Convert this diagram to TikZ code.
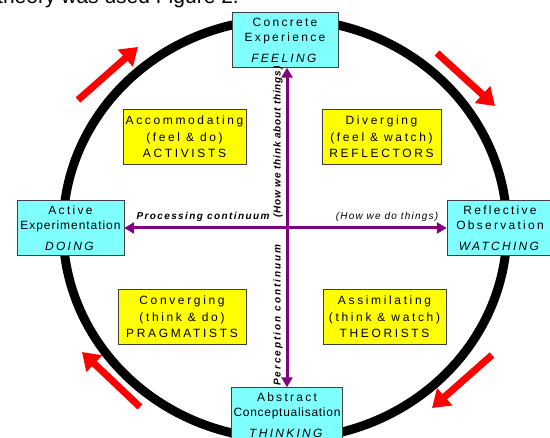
\documentclass[tikz,border=0pt]{standalone}
\usepackage{fontspec}
\setmainfont{Liberation Sans}
\usetikzlibrary{arrows.meta}
\definecolor{modecyan}{RGB}{128,255,255}
\definecolor{styleyellow}{RGB}{255,255,0}
\definecolor{axispurple}{RGB}{128,0,128}

\begin{document}
\begin{tikzpicture}[
		x=1pt, y=-1pt,
		ring/.style={line width=9pt, draw=black},
		mode/.style={rectangle, draw=black!75, fill=modecyan, minimum width=106pt, minimum height=55pt, inner sep=2pt, align=center, font=\fontsize{12}{15.5}\selectfont\addfontfeature{LetterSpace=19}},
		learner/.style={rectangle, draw=black!75, fill=styleyellow, minimum width=123pt, minimum height=55pt, inner sep=2pt, align=center, font=\fontsize{12}{16.5}\selectfont\addfontfeature{LetterSpace=22}},
		axis/.style={{Triangle[length=10pt,width=11pt]}-{Triangle[length=10pt,width=11pt]}, line width=3pt, draw=axispurple},
		turn/.style={-{Triangle[length=17pt,width=22pt]}, line width=7pt, draw=red},
		axislabel/.style={font=\fontsize{10}{12}\selectfont\itshape\addfontfeature{LetterSpace=10}, inner sep=1pt}
	]
	\useasboundingbox (0,0) rectangle (550,438);

	% heading line cut off above
	\node[anchor=base west, font=\fontsize{21}{21}\selectfont, inner sep=0pt] (heading) at (-3,4) {theory was used Figure 2.};

	% cycle
	\coordinate (mid) at (285,229);
	\draw[ring] (mid) ellipse [x radius=222, y radius=210];

	% four modes
	\node[mode] (feel) at (285,40) {Concrete\\Experience\\[5pt]\textit{FEELING}};
	\node[mode, minimum width=107pt] (doing) at (70.5,228) {Active\\{\addfontfeature{LetterSpace=8}Experimentation}\\[5pt]\textit{DOING}};
	\node[mode] (watch) at (500,228) {Reflective\\Observation\\[5pt]\textit{WATCHING}};
	\node[mode, minimum width=110pt] (think) at (287,415) {Abstract\\{\addfontfeature{LetterSpace=6}Conceptualisation}\\[5pt]\textit{THINKING}};

	% continua
	\draw[axis] (doing) -- (watch);
	\draw[axis] (think.north) -- (think.north |- feel.south);
	\node[axislabel] (process) at (203,217) {\bfseries\addfontfeature{LetterSpace=14}Processing continuum};
	\node[axislabel] (dothings) at (387,217) {\addfontfeature{LetterSpace=12}(How we do things)};
	\node[axislabel, rotate=90] (thinkthings) at (278,142) {\bfseries\addfontfeature{LetterSpace=8}(How we think about things)};
	\node[axislabel, rotate=90] (perceive) at (278,315) {\bfseries\addfontfeature{LetterSpace=20}Perception continuum};

	% learning styles
	\node[learner] (accom) at (184.5,137) {Accommodating\\(feel \& do)\\ACTIVISTS};
	\node[learner, minimum width=119pt] (diverg) at (381.5,137) {Diverging\\(feel \& watch)\\REFLECTORS};
	\node[learner, minimum width=128pt] (converg) at (182,317) {Converging\\(think \& do)\\PRAGMATISTS};
	\node[learner] (assim) at (384.5,317) {Assimilating\\(think \& watch)\\THEORISTS};

	% direction of the cycle
	\coordinate (tl0) at (78,100);
	\coordinate (tl1) at (138,47);
	\coordinate (tr0) at (437,53);
	\coordinate (tr1) at (495,106);
	\coordinate (br0) at (492,355);
	\coordinate (br1) at (432,408);
	\coordinate (bl0) at (140,407);
	\coordinate (bl1) at (82,352);
	\draw[turn] (tl0) -- (tl1);
	\draw[turn] (tr0) -- (tr1);
	\draw[turn] (br0) -- (br1);
	\draw[turn] (bl0) -- (bl1);

\end{tikzpicture}
\end{document}
